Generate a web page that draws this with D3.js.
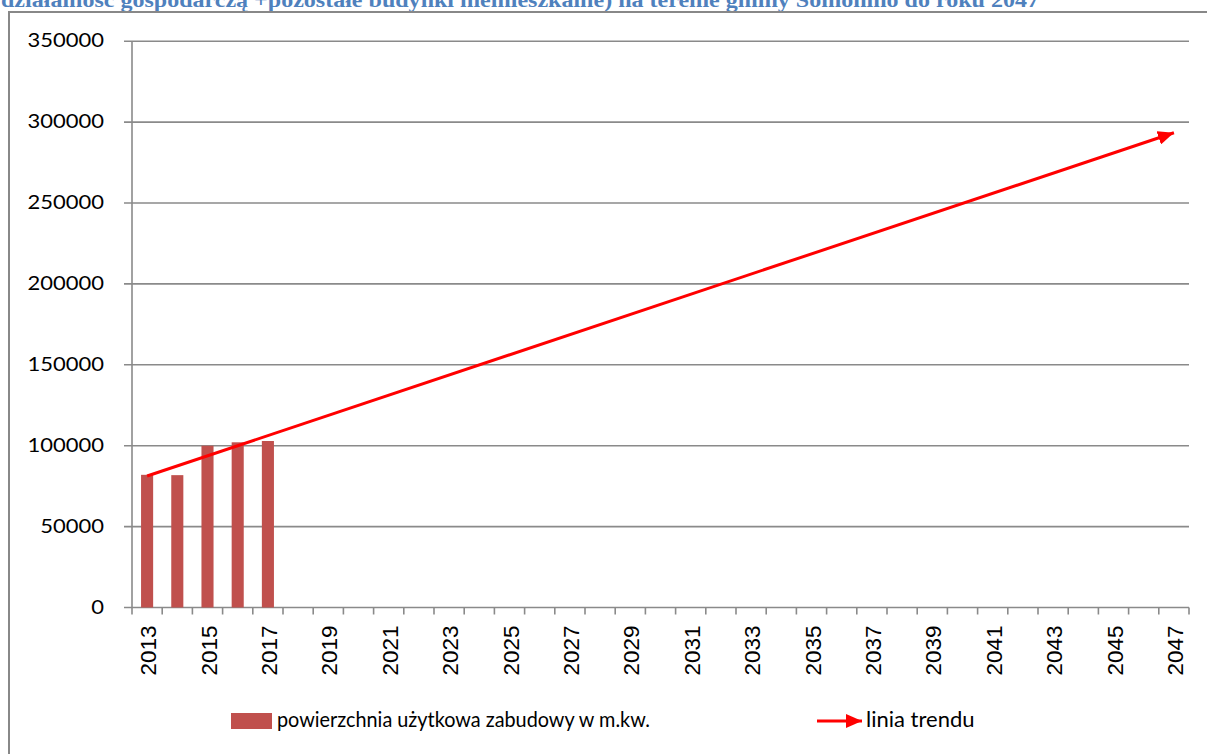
<!DOCTYPE html>
<html>
<head>
<meta charset="utf-8">
<script src="https://cdn.jsdelivr.net/npm/d3@7"></script>
<style>
  body { margin: 0; background: #fff; overflow: hidden; }
  svg { display: block; }
</style>
</head>
<body>
<svg id="chart" width="1207" height="754"></svg>
<script>
// Years on the category axis
const years = ["2013","2014","2015","2016","2017","2018","2019","2020","2021","2022",
  "2023","2024","2025","2026","2027","2028","2029","2030","2031","2032","2033","2034",
  "2035","2036","2037","2038","2039","2040","2041","2042","2043","2044","2045","2046","2047"];
// Labelled years (every second one)
const tickYears = ["2013","2015","2017","2019","2021","2023","2025","2027","2029","2031",
  "2033","2035","2037","2039","2041","2043","2045","2047"];
// Measured usable floor area, m²
const areaYears = ["2013","2014","2015","2016","2017"];
const areaValues = [82000, 81800, 100000, 102100, 102900];
// Trend line end points
const trendYears = ["2013","2047"];
const trendValues = [81300, 293400];
// Value axis ticks
const yTicks = [0, 50000, 100000, 150000, 200000, 250000, 300000, 350000];

const title = "działalność gospodarczą +pozostałe budynki niemieszkalne) na terenie gminy Somonino do roku 2047";
const barLabel = "powierzchnia użytkowa zabudowy w m.kw.";
const trendLabel = "linia trendu";

const BAR = "#C0504D", TREND = "#FF0000", GRID = "#8A8A8A";

const svg = d3.select("#chart");

// Title line (top cut by page edge)
svg.append("text")
  .attr("x", 1).attr("y", 7)
  .attr("font-family", "'Liberation Serif', serif")
  .attr("font-weight", "bold")
  .attr("font-size", 21)
  .attr("fill", "#4F81BD")
  .attr("textLength", 1038)
  .attr("lengthAdjust", "spacingAndGlyphs")
  .text(title);

// Chart frame
svg.append("path")
  .attr("d", "M9,760 V12 H1212")
  .attr("fill", "none")
  .attr("stroke", "#888")
  .attr("stroke-width", 2);

const x = d3.scaleBand().domain(years).range([132, 1189]);
const y = d3.scaleLinear().domain([0, 350000]).range([607.5, 41.2]);
const bw = x.bandwidth();

// Horizontal gridlines with left tick stubs
svg.append("g").selectAll("line").data(yTicks).join("line")
  .attr("x1", 124).attr("x2", 1189)
  .attr("y1", d => y(d)).attr("y2", d => y(d))
  .attr("stroke", GRID).attr("stroke-width", 1.6);

// Value axis line
svg.append("line")
  .attr("x1", 132).attr("x2", 132)
  .attr("y1", y(350000)).attr("y2", y(0))
  .attr("stroke", GRID).attr("stroke-width", 1.6);

// Value axis labels
svg.append("g").selectAll("text").data(yTicks).join("text")
  .attr("transform", d => `translate(104,${y(d) + 6}) scale(1,0.86)`)
  .attr("text-anchor", "end")
  .attr("font-family", "Lato, sans-serif")
  .attr("font-size", 22)
  .attr("fill", "#000")
  .text(d => d);

// Category axis tick marks at band boundaries
const boundaries = years.map(d => x(d)).concat([x(years[years.length - 1]) + bw]);
svg.append("g").selectAll("line").data(boundaries).join("line")
  .attr("x1", d => d).attr("x2", d => d)
  .attr("y1", y(0)).attr("y2", y(0) + 7)
  .attr("stroke", GRID).attr("stroke-width", 1.6);

// Category labels, rotated
svg.append("g").selectAll("text").data(tickYears).join("text")
  .attr("transform", d => `translate(${x(d) + bw / 2 + 9},${y(0) + 18}) rotate(-90)`)
  .attr("text-anchor", "end")
  .attr("font-family", "'Liberation Sans', Arial, sans-serif")
  .attr("font-size", 22.5)
  .attr("fill", "#000")
  .text(d => d);

// Bars
svg.append("g").selectAll("rect").data(areaYears.map((d, i) => ({ year: d, value: areaValues[i] })))
  .join("rect")
  .attr("x", d => x(d.year) + bw * 0.3)
  .attr("width", bw * 0.4)
  .attr("y", d => y(d.value))
  .attr("height", d => y(0) - y(d.value))
  .attr("fill", BAR);

// Arrow head marker
const defs = svg.append("defs");
defs.append("marker")
  .attr("id", "arrow")
  .attr("markerUnits", "userSpaceOnUse")
  .attr("viewBox", "0 0 16 14")
  .attr("refX", 16).attr("refY", 7)
  .attr("markerWidth", 16).attr("markerHeight", 14)
  .attr("orient", "auto")
  .append("path")
  .attr("d", "M0,0 L16,7 L0,14 Z")
  .attr("fill", TREND);

// Trend line
const line = d3.line().x(d => x(d[0]) + bw / 2).y(d => y(d[1]));
svg.append("path")
  .datum(trendYears.map((d, i) => [d, trendValues[i]]))
  .attr("d", line)
  .attr("fill", "none")
  .attr("stroke", TREND)
  .attr("stroke-width", 3)
  .attr("marker-end", "url(#arrow)");

// Legend
const lg = svg.append("g");
lg.append("rect")
  .attr("x", 231).attr("y", 713).attr("width", 41).attr("height", 16)
  .attr("fill", BAR);
lg.append("text")
  .attr("x", 277).attr("y", 727)
  .attr("font-family", "Lato, sans-serif")
  .attr("font-size", 22)
  .attr("fill", "#000")
  .attr("textLength", 373)
  .attr("lengthAdjust", "spacingAndGlyphs")
  .text(barLabel);
lg.append("line")
  .attr("x1", 817).attr("x2", 862)
  .attr("y1", 721).attr("y2", 721)
  .attr("stroke", TREND).attr("stroke-width", 3)
  .attr("marker-end", "url(#arrow)");
lg.append("text")
  .attr("x", 866).attr("y", 727)
  .attr("font-family", "Lato, sans-serif")
  .attr("font-size", 22)
  .attr("fill", "#000")
  .text(trendLabel);
</script>
</body>
</html>
